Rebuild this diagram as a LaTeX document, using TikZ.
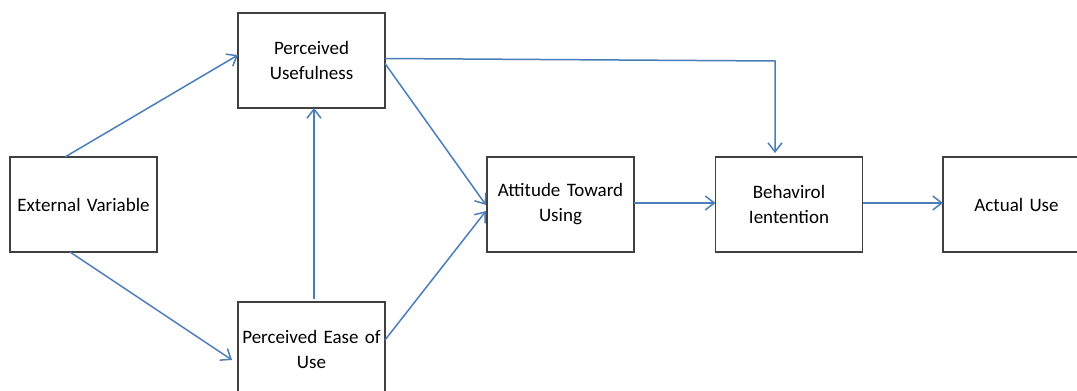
\documentclass[tikz,border=0pt]{standalone}
\usepackage{fontspec}
\setmainfont{Carlito}
\usetikzlibrary{arrows.meta,calc}
\definecolor{arrowblue}{HTML}{4A7EBB}
\definecolor{boxgray}{HTML}{404040}
\tikzset{
  tambox/.style={draw=boxgray, line width=1.1pt, fill=white, minimum width=147pt, minimum height=95pt,
    inner sep=2pt, outer sep=0pt, align=center, text width=143pt, font=\fontsize{19}{25}\selectfont},
  link/.style={draw=arrowblue, line width=1.5pt, -{Straight Barb[length=9pt,width=14pt,line width=1.5pt]}},
  plain/.style={draw=arrowblue, line width=1.5pt}
}
\begin{document}
\begin{tikzpicture}[x=1pt,y=-1pt]
\useasboundingbox (0,0) rectangle (1077,391);
\begin{scope}
\clip (0,0) rectangle (1077,391);
\node[tambox] (ext) at (83.5,204.5) {External Variable};
\node[tambox] (pu) at (311.5,60.5) {Perceived\\Usefulness};
\node[tambox] (peu) at (311.5,349.5) {Perceived Ease of\\Use};
\node[tambox] (at) at (560.5,204.5) {Attitude Toward\\Using};
\node[tambox] (bi) at (789,204.5) {Behavirol\\Ientention};
\node[tambox] (au) at (1016.5,204.5) {Actual Use};
\coordinate (corner) at (775,61);

\draw[link] ([xshift=55pt]ext.north west) -- ([yshift=5.5pt]pu.west);
\draw[link] ([xshift=60pt]ext.south west) -- ([xshift=-6pt,yshift=-10.5pt]peu.west);
\draw[link] ([xshift=2.5pt,yshift=3pt]peu.north) -- ([xshift=2.5pt]pu.south);
\draw[link] ([yshift=2pt]pu.east) -- (corner) -- ($(bi.north -| corner)+(0,-4)$);
\draw[link] ([yshift=-3pt]pu.east) -- ([xshift=-1pt,yshift=-0.5pt]at.west);
\draw[link] ([yshift=9.5pt]peu.east) -- ([xshift=-1pt,yshift=-6.5pt]at.west);
\draw[link] ([yshift=1.5pt]at.east) -- ([yshift=1.5pt]bi.west);
\draw[link] ([yshift=1.5pt]bi.east) -- ([yshift=1.5pt]au.west);
\end{scope}
\end{tikzpicture}
\end{document}
